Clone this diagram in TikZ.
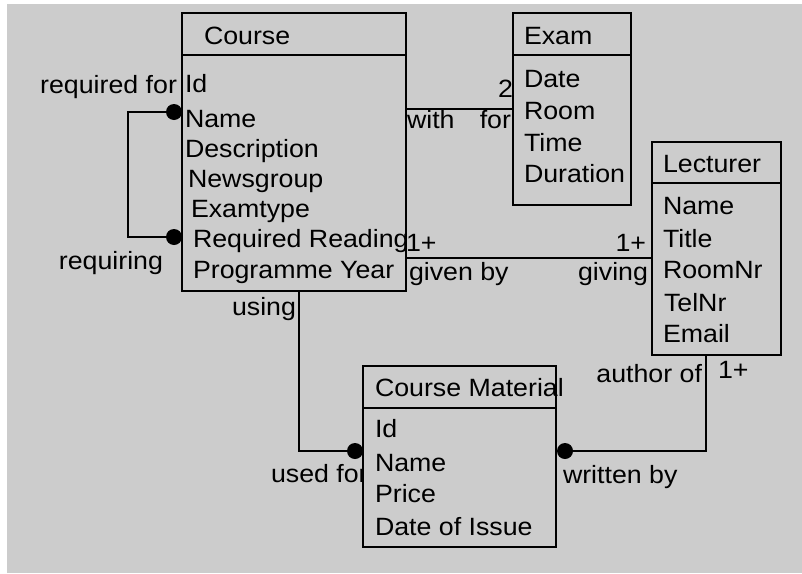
\documentclass[tikz,border=0pt]{standalone}
\usepackage{fontspec}
\setmainfont{Liberation Sans}[FakeStretch=1.07]
\definecolor{panel}{HTML}{CCCCCC}
\begin{document}
\begin{tikzpicture}[x=1pt,y=-1pt,
  line width=2pt,
  box/.style={draw=black, fill=panel, rectangle, inner sep=0pt, outer sep=0pt},
  txt/.style={inner sep=0pt, outer sep=0pt, anchor=base west, font=\fontsize{25}{30}\selectfont},
  rtxt/.style={txt, anchor=base east},
  dot/.style={fill=black}]
% canvas
\useasboundingbox (0,0) rectangle (802,573);
\fill[white] (0,0) rectangle (802,573);
\fill[panel] (7,4) rectangle (802,573);

% entity boxes
\node[box, minimum width=224, minimum height=278] (course)   at (294,152)   {};
\node[box, minimum width=118, minimum height=192] (exam)     at (572,109)   {};
\node[box, minimum width=129, minimum height=213] (lecturer) at (716.5,248.5) {};

% connector end points
\coordinate (reqfor)  at (174,112);
\coordinate (reqing)  at (174,237);
\coordinate (loopx)   at (128,175);
\coordinate (usedfor) at (355,451);
\coordinate (written) at (565,451);

% connectors
\draw (course.east |- 0,109) -- (exam.west |- 0,109);
\draw (course.east |- 0,258) -- (lecturer.west |- 0,258);
\draw (reqfor) -| (loopx) |- (reqing);
\draw (course.south -| 299,0) |- (usedfor);
\draw (lecturer.south -| 706,0) |- (written);

% role labels
\node[rtxt] (l1)  at (177,93)  {required for};
\node[rtxt] (l2)  at (163,269) {requiring};
\node[txt]  (l3)  at (407,128) {with};
\node[rtxt] (l4)  at (511,128) {for};
\node[rtxt] (l5)  at (513,97)  {2};
\node[txt]  (l6)  at (406,251) {1+};
\node[rtxt] (l7)  at (646,251) {1+};
\node[txt]  (l8)  at (409,280) {given by};
\node[rtxt] (l9)  at (648,280) {giving};
\node[rtxt] (l10) at (296,315) {using};
\node[txt]  (l11) at (271,482) {used for};
\node[txt]  (l12) at (563,483) {written by};
\node[rtxt] (l13) at (702,382) {author of};
\node[txt]  (l14) at (718,378) {1+};

% course material box drawn over its labels
\node[box, minimum width=193, minimum height=181] (material) at (459.5,456.5) {};

% header separators
\draw (course.west |- 0,55)    -- (course.east |- 0,55);
\draw (exam.west |- 0,55)      -- (exam.east |- 0,55);
\draw (lecturer.west |- 0,183) -- (lecturer.east |- 0,183);
\draw (material.west |- 0,408) -- (material.east |- 0,408);

% Course
\node[txt] (c0) at (204,44)  {Course};
\node[txt] (c1) at (185,92)  {Id};
\node[txt] (c2) at (185,127) {Name};
\node[txt] (c3) at (185,157) {Description};
\node[txt] (c4) at (188,187) {Newsgroup};
\node[txt] (c5) at (191,217) {Examtype};
\node[txt] (c6) at (193,247) {Required Reading};
\node[txt] (c7) at (193,278) {Programme Year};

% Exam
\node[txt] (e0) at (524,44)  {Exam};
\node[txt] (e1) at (524,87)  {Date};
\node[txt] (e2) at (524,119) {Room};
\node[txt] (e3) at (524,151) {Time};
\node[txt] (e4) at (524,182) {Duration};

% Lecturer
\node[txt] (t0) at (663,172) {Lecturer};
\node[txt] (t1) at (663,214) {Name};
\node[txt] (t2) at (663,247) {Title};
\node[txt] (t3) at (663,278) {RoomNr};
\node[txt] (t4) at (664,311) {TelNr};
\node[txt] (t5) at (663,342) {Email};

% Course Material
\node[txt] (m0) at (375,396) {Course Material};
\node[txt] (m1) at (375,437) {Id};
\node[txt] (m2) at (375,471) {Name};
\node[txt] (m3) at (375,502) {Price};
\node[txt] (m4) at (375,535) {Date of Issue};

% role dots
\fill[dot] (reqfor)  circle (8pt);
\fill[dot] (reqing)  circle (8pt);
\fill[dot] (usedfor) circle (8pt);
\fill[dot] (written) circle (8pt);
\end{tikzpicture}
\end{document}
